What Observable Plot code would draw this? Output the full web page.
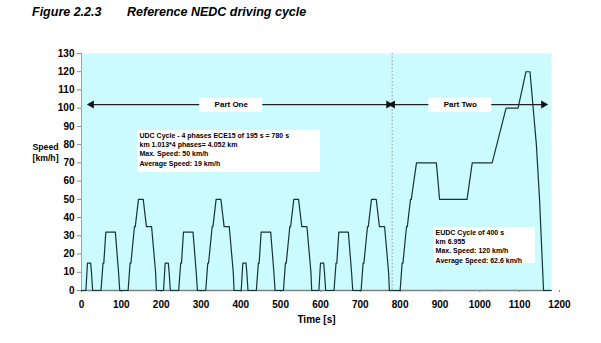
<!DOCTYPE html>
<html>
<head>
<meta charset="utf-8">
<script src="https://cdn.jsdelivr.net/npm/d3@7"></script>
<script src="https://cdn.jsdelivr.net/npm/@observablehq/plot@0.6"></script>
<style>
  html, body { margin: 0; padding: 0; background: #fff; }
  #wrap { position: relative; width: 601px; height: 343px; font-family: "Liberation Sans", Arial, sans-serif; }
  .title { position: absolute; top: 5px; font-weight: bold; font-style: italic; font-size: 12.5px; color: #000; white-space: nowrap; }
  #chart { position: absolute; left: 0; top: 0; }
</style>
</head>
<body>
<div id="wrap">
  <div class="title" style="left:32px">Figure 2.2.3</div>
  <div class="title" style="left:127px">Reference NEDC driving cycle</div>
  <div id="chart"></div>
</div>
<script>
// NEDC speed profile breakpoints (time in s, speed in km/h)
const times = [
  0, 11, 15, 23, 25, 28, 49, 54, 56, 61, 85, 93, 96, 117, 122, 124, 133, 135, 143, 155, 163, 176, 186, 188,
  195, 206, 210, 218, 220, 223, 244, 249, 251, 256, 280, 288, 291, 312, 317, 319, 328, 330, 338, 350, 358, 371, 381, 383,
  390, 401, 405, 413, 415, 418, 439, 444, 446, 451, 475, 483, 486, 507, 512, 514, 523, 525, 533, 545, 553, 566, 576, 578,
  585, 596, 600, 608, 610, 613, 634, 639, 641, 646, 670, 678, 681, 702, 707, 709, 718, 720, 728, 740, 748, 761, 771, 773,
  780, 800, 805, 807, 816, 818, 826, 828, 841, 891, 899, 968, 981, 1031, 1066, 1096, 1116, 1126, 1142, 1150, 1160, 1180
];
const speeds = [
  0, 0, 15, 15, 10, 0, 0, 15, 15, 32, 32, 10, 0, 0, 15, 15, 35, 35, 50, 50, 35, 35, 10, 0,
  0, 0, 15, 15, 10, 0, 0, 15, 15, 32, 32, 10, 0, 0, 15, 15, 35, 35, 50, 50, 35, 35, 10, 0,
  0, 0, 15, 15, 10, 0, 0, 15, 15, 32, 32, 10, 0, 0, 15, 15, 35, 35, 50, 50, 35, 35, 10, 0,
  0, 0, 15, 15, 10, 0, 0, 15, 15, 32, 32, 10, 0, 0, 15, 15, 35, 35, 50, 50, 35, 35, 10, 0,
  0, 0, 15, 15, 35, 35, 50, 50, 70, 70, 50, 50, 70, 70, 100, 100, 120, 120, 80, 50, 0, 0
];

// Parts of the cycle
const partNames = ["Part One", "Part Two"];
const partBoundary = [780];
const arrowFrom = [25, 781];
const arrowTo = [771, 1160];
const arrowLevel = 102;
const labelTime = [376, 951];

// Tick values
const xTicks = [0, 100, 200, 300, 400, 500, 600, 700, 800, 900, 1000, 1100, 1200];
const yTicks = [0, 10, 20, 30, 40, 50, 60, 70, 80, 90, 100, 110, 120, 130];

// Annotation texts
const udcText = ["UDC Cycle - 4 phases ECE15 of 195 s = 780 s", "km 1.013*4 phases= 4.052 km", "Max. Speed: 50 km/h", "Average Speed: 19 km/h"];
const eudcText = ["EUDC Cycle of 400 s", "km 6.955", "Max. Speed: 120 km/h", "Average Speed: 62.6 km/h"];

const profile = times.map((t, i) => ({t, v: speeds[i]}));
const parts = partNames.map((name, i) => ({name, from: arrowFrom[i], to: arrowTo[i], label: labelTime[i]}));
const ends = parts.flatMap(p => [{t: p.from, dir: -90}, {t: p.to, dir: 90}]);

const chart = Plot.plot({
  width: 601,
  height: 343,
  marginLeft: 81,
  marginRight: 50,
  marginTop: 53,
  marginBottom: 53,
  style: {fontFamily: "Liberation Sans, Arial, sans-serif", fontWeight: "bold", fontSize: "10px", color: "#000", background: "transparent"},
  x: {domain: [0, 1180], label: null},
  y: {domain: [0, 130], label: null},
  marks: [
    Plot.frame({fill: "#ccfbff", stroke: null}),
    Plot.ruleX(partBoundary, {stroke: "#9a9a9a", strokeDasharray: "1.5,2", strokeWidth: 1}),
    Plot.ruleY([0], {stroke: "#808080", strokeWidth: 1.5}),
    Plot.ruleX([0], {stroke: "#a0a0a0", strokeWidth: 1}),
    Plot.axisX({ticks: xTicks, tickFormat: d => String(d), tickSize: 2, tickPadding: 8, stroke: "#888", fill: "#000", fontSize: 10, fontWeight: "bold", label: null}),
    Plot.axisY({ticks: yTicks, tickFormat: d => String(d), tickSize: 4, tickPadding: 3, stroke: "#888", fill: "#000", fontSize: 10, fontWeight: "bold", label: null}),
    Plot.text(["Time [s]"], {frameAnchor: "bottom", dy: 32, fontSize: 10, fontWeight: "bold", fill: "#000"}),
    Plot.text(["Speed\n[km/h]"], {frameAnchor: "left", y: 76, dx: -49, textAnchor: "start", lineHeight: 1.25, fontSize: 8.7, fontWeight: "bold"}),
    Plot.line(profile, {x: "t", y: "v", stroke: "#173434", strokeWidth: 1.2}),
    Plot.link(parts, {x1: "from", x2: "to", y1: arrowLevel, y2: arrowLevel, stroke: "#222", strokeWidth: 1.2}),
    Plot.dot(ends, {x: "t", y: arrowLevel, symbol: "triangle", rotate: "dir", r: 3, fill: "#111", stroke: null}),
    Plot.rect(parts, {x1: d => d.label - 79, x2: d => d.label + 79, y1: arrowLevel - 4.2, y2: arrowLevel + 3.6, fill: "white"}),
    Plot.text(parts, {x: "label", y: arrowLevel, text: "name", fontSize: 8, fontWeight: "bold", fill: "#000"}),
    Plot.rect([0], {x1: 140.6, x2: 600, y1: 64.7, y2: 87.8, fill: "white"}),
    Plot.text([udcText.join("\n")], {x: 145.6, y: 85.2, textAnchor: "start", lineAnchor: "top", dy: -4, lineHeight: 1.33, fontSize: 7, fontWeight: "bold", fill: "#000"}),
    Plot.rect([0], {x1: 883.7, x2: 1139.8, y1: 14.8, y2: 34.6, fill: "white"}),
    Plot.text([eudcText.join("\n")], {x: 889, y: 32, textAnchor: "start", lineAnchor: "top", dy: -4, lineHeight: 1.33, fontSize: 7, fontWeight: "bold", fill: "#000"})
  ]
});
document.getElementById("chart").appendChild(chart);
</script>
</body>
</html>
